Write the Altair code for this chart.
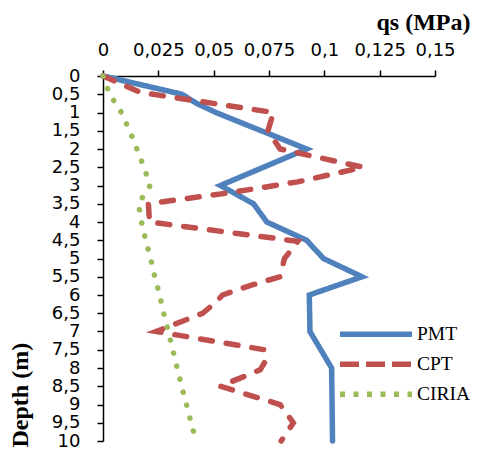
import altair as alt
import pandas as pd

SERIES = ["PMT", "CPT", "CIRIA"]
COLORS = ["#4F81BD", "#C0504D", "#9BBB59"]
PLOT_DASHES = [[1, 0], [12, 14], [0.1, 13.3]]
LEGEND_DASHES = [[1, 0], [19, 7], [5, 8.5]]

PMT_DEPTH = [0, 0.5, 0.75, 1.0, 2.0, 3.0, 3.5, 4.0, 4.5, 5.0, 5.5, 6.0, 7.0, 8.0, 10.0]
PMT_QS = [0, 0.0356, 0.0423, 0.051, 0.092, 0.053, 0.068, 0.074, 0.092, 0.0996, 0.117,
          0.0932, 0.0935, 0.1033, 0.1037]

CPT_DEPTH = [0, 0.45, 1.0, 1.5, 2.0, 2.5, 2.9, 3.2, 3.38, 3.5, 4.0, 4.53, 5.0, 5.5,
             5.75, 6.0, 6.2, 6.5, 7.0, 7.5, 7.85, 8.05, 8.5, 9.0, 9.5, 10.0]
CPT_QS = [0, 0.017, 0.077, 0.0745, 0.08, 0.1175, 0.088, 0.057, 0.035, 0.0205, 0.021,
          0.088, 0.082, 0.08, 0.066, 0.054, 0.051, 0.045, 0.024, 0.073, 0.073, 0.071,
          0.053, 0.08, 0.086, 0.0805]

CIRIA_DEPTH = [0, 0.5, 1.0, 1.5, 2.0, 2.5, 3.0, 3.5, 4.0, 4.5, 5.0, 5.5, 6.0, 6.5,
               7.0, 7.5, 7.75, 8.0, 8.5, 9.0, 9.5, 10.0]
CIRIA_QS = [0, 0.003, 0.0083, 0.012, 0.0153, 0.0185, 0.0213, 0.016, 0.0174, 0.0193,
            0.0215, 0.0234, 0.0256, 0.0274, 0.0295, 0.0315, 0.0325, 0.0335, 0.0355,
            0.0377, 0.0398, 0.042]

X_TICKS = [0, 0.025, 0.05, 0.075, 0.1, 0.125, 0.15]
Y_TICKS = [0, 0.5, 1, 1.5, 2, 2.5, 3, 3.5, 4, 4.5, 5, 5.5, 6, 6.5, 7, 7.5, 8, 8.5,
           9, 9.5, 10]

X_ENC = alt.X(
    "qs:Q",
    scale=alt.Scale(domain=[0, 0.15], nice=False),
    axis=alt.Axis(
        orient="top",
        values=X_TICKS,
        title="qs (MPa)",
        labelExpr="replace(format(datum.value, '.3~f'), '.', ',')",
        labelFont="DejaVu Sans",
        labelFontSize=18,
        labelColor="black",
        labelBaseline="alphabetic",
        labelPadding=15,
        labelOverlap=False,
        labelFlush=False,
        titleFont="Liberation Serif",
        titleFontWeight="bold",
        titleFontSize=24,
        titleColor="black",
        titleX=367,
        titleY=-46.5,
        titleAlign="right",
        titleBaseline="alphabetic",
    ),
)

Y_ENC = alt.Y(
    "depth:Q",
    scale=alt.Scale(domain=[0, 10], reverse=True, nice=False),
    axis=alt.Axis(
        values=Y_TICKS,
        title="Depth (m)",
        labelExpr="replace(format(datum.value, '.1~f'), '.', ',')",
        labelFont="DejaVu Sans",
        labelFontSize=18,
        labelColor="black",
        labelPadding=17,
        labelOverlap=False,
        labelFlush=False,
        titleFont="Liberation Serif",
        titleFontWeight="bold",
        titleFontSize=24,
        titleColor="black",
        titleX=-76,
        titleY=371,
        titleAngle=270,
        titleAlign="left",
        titleBaseline="alphabetic",
    ),
)


def series_layer(depths, vals, color, dash):
    d = pd.DataFrame({"depth": depths, "qs": vals, "idx": list(range(len(depths)))})
    return alt.Chart(d).mark_line(
        color=color, strokeDash=dash, strokeWidth=5.5, strokeCap="round"
    ).encode(x=X_ENC, y=Y_ENC, order=alt.Order("idx:Q"))


layers = [
    series_layer(PMT_DEPTH, PMT_QS, COLORS[0], PLOT_DASHES[0]),
    series_layer(CPT_DEPTH, CPT_QS, COLORS[1], PLOT_DASHES[1]),
    series_layer(CIRIA_DEPTH, CIRIA_QS, COLORS[2], PLOT_DASHES[2]),
]

# legend-only layer (no visible data): provides the legend entries
legend_df = pd.DataFrame({"series": SERIES, "depth": [0, 0, 0], "qs": [0, 0, 0]})
legend = alt.Legend(title=None)
legend_layer = alt.Chart(legend_df).transform_filter("false").mark_line(
    strokeWidth=5.5, strokeCap="butt"
).encode(
    x=X_ENC,
    y=Y_ENC,
    color=alt.Color("series:N", scale=alt.Scale(domain=SERIES, range=COLORS), legend=legend),
    strokeDash=alt.StrokeDash("series:N", scale=alt.Scale(domain=SERIES, range=LEGEND_DASHES),
                              legend=legend),
)

chart = alt.layer(*layers, legend_layer).properties(
    width=332,
    height=365,
    padding={"left": 95, "top": 68, "right": 36, "bottom": 7},
    autosize=alt.AutoSizeParams(type="none"),
).configure_view(
    stroke=None
).configure_axis(
    grid=False,
    domainColor="black",
    domainWidth=1.5,
    tickColor="black",
    tickWidth=1.5,
    tickSize=6,
).configure_legend(
    orient="none",
    legendX=234,
    legendY=243.5,
    symbolType="stroke",
    symbolSize=5184,
    symbolStrokeWidth=5.5,
    labelFont="Liberation Serif",
    labelFontSize=19.5,
    labelColor="black",
    labelOffset=2,
    clipHeight=29.5,
    rowPadding=0,
    padding=0,
)

chart.save("out.html", embed_options={"renderer": "svg", "actions": False})
